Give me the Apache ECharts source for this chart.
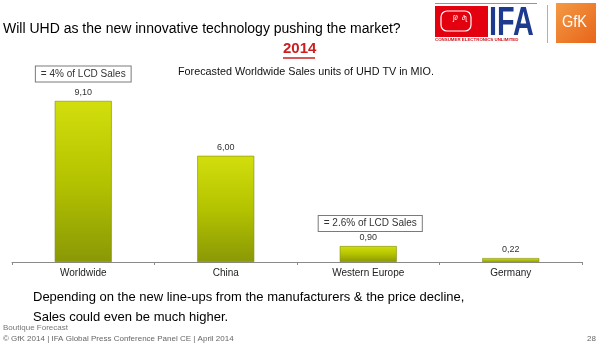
<!DOCTYPE html>
<html>
<head>
<meta charset="utf-8">
<script src="https://cdn.jsdelivr.net/npm/echarts@6/dist/echarts.min.js"></script>
<style>
html,body{margin:0;padding:0;background:#fff;}
#main{width:600px;height:347px;}
</style>
</head>
<body>
<div id="main"></div>
<script>
var categories = ['Worldwide', 'China', 'Western Europe', 'Germany'];
var salesValues = [9.10, 6.00, 0.90, 0.22];
var callouts = [
  { category: 'Worldwide', value: 9.10, text: '= 4% of LCD Sales' },
  { category: 'Western Europe', value: 0.90, text: '= 2.6% of LCD Sales' }
];

var FONT = 'Liberation Sans, Arial, sans-serif';
var chart = echarts.init(document.getElementById('main'), null, { renderer: 'canvas' });

var barColor = new echarts.graphic.LinearGradient(0, 0, 0, 1, [
  { offset: 0, color: '#d2de0c' },
  { offset: 0.5, color: '#b4c300' },
  { offset: 1, color: '#8a9806' }
]);

var option = {
  backgroundColor: '#ffffff',
  animation: false,
  textStyle: { fontFamily: FONT },
  grid: { left: 12, right: 18, top: 85, bottom: 85, containLabel: false },
  xAxis: {
    type: 'category',
    data: categories,
    boundaryGap: true,
    axisLine: { show: true, lineStyle: { color: '#8a8a8a', width: 1 } },
    axisTick: { show: true, length: 3, lineStyle: { color: '#8a8a8a' } },
    axisLabel: { color: '#222', fontSize: 10, margin: 6, fontFamily: FONT }
  },
  yAxis: {
    type: 'value', min: 0, max: 10, show: false,
    splitLine: { show: false }
  },
  series: [{
    type: 'bar',
    data: salesValues,
    barWidth: 57,
    itemStyle: { color: barColor, borderColor: '#7f8c10', borderWidth: 0.6 },
    label: {
      show: true, position: 'top', distance: 4,
      color: '#333', fontSize: 9, fontFamily: FONT,
      formatter: function (p) { return p.value.toFixed(2).replace('.', ','); }
    },
    markPoint: {
      symbol: 'rect',
      symbolSize: 1,
      itemStyle: { color: 'rgba(0,0,0,0)' },
      data: callouts.map(function (c, i) {
        return {
          coord: [c.category, c.value],
          label: {
            show: true, position: 'inside', formatter: c.text,
            offset: i === 0 ? [0, -27] : [2, -22.5],
            color: '#333', fontSize: 10, fontFamily: FONT,
            backgroundColor: '#ffffff', borderColor: '#7a7a7a', borderWidth: 1,
            padding: [3, 5, 2, 5]
          }
        };
      })
    }
  }],
  graphic: [
    { type: 'text', left: 3, top: 22, style: { text: 'Will UHD as the new innovative technology pushing the market?', fill: '#000', font: '14px ' + FONT } },
    { type: 'text', left: 283, top: 41, style: { text: '2014', fill: '#cc1f1f', font: 'bold 15px ' + FONT } },
    { type: 'line', shape: { x1: 283, y1: 58, x2: 315, y2: 58 }, style: { stroke: '#cc1f1f', lineWidth: 1.5 } },
    { type: 'text', left: 178, top: 67, style: { text: 'Forecasted Worldwide Sales units of UHD TV in MIO.', fill: '#111', font: '10.8px ' + FONT } },

    // IFA logo
    { type: 'line', shape: { x1: 435, y1: 3.5, x2: 537, y2: 3.5 }, style: { stroke: '#8a93b5', lineWidth: 1 } },
    { type: 'rect', shape: { x: 435, y: 6, width: 53, height: 31 }, style: { fill: '#e3000f' } },
    { type: 'rect', shape: { x: 441, y: 11, width: 30, height: 20, r: 6 }, style: { fill: 'none', stroke: '#ffffff', lineWidth: 1.2 } },
    { type: 'text', left: 453, top: 15, style: { text: 'ʃ∂  ∂ʅ', fill: '#fff', font: '7px ' + FONT } },
    { type: 'text', x: 489, y: 4, scaleX: 0.72, style: { text: 'IFA', fill: '#1c3b8f', font: 'bold 40px ' + FONT } },
    { type: 'text', left: 435, top: 38, style: { text: 'CONSUMER ELECTRONICS UNLIMITED', fill: '#d0101a', font: 'bold 4.4px ' + FONT } },
    { type: 'line', shape: { x1: 547.5, y1: 5, x2: 547.5, y2: 43 }, style: { stroke: '#b0b0b0', lineWidth: 1 } },
    // GfK logo
    { type: 'rect', shape: { x: 556, y: 3, width: 40, height: 40 }, style: { fill: new echarts.graphic.LinearGradient(0, 0, 1, 1, [ { offset: 0, color: '#f39a45' }, { offset: 1, color: '#e8651a' } ]) } },
    { type: 'text', x: 562, y: 14, scaleX: 0.85, style: { text: 'GfK', fill: '#ffffff', font: '17px ' + FONT } },

    // Bottom texts
    { type: 'text', left: 33, top: 291, style: { text: 'Depending on the new line-ups from the manufacturers & the price decline,', fill: '#000', font: '13px ' + FONT } },
    { type: 'text', left: 33, top: 311, style: { text: 'Sales could even be much higher.', fill: '#000', font: '13px ' + FONT } },
    { type: 'text', left: 3, top: 324, style: { text: 'Boutique Forecast', fill: '#777', font: '8px ' + FONT } },
    { type: 'text', left: 3, top: 335, style: { text: '\u00a9 GfK 2014 | IFA Global Press Conference Panel CE | April 2014', fill: '#666', font: '8px ' + FONT } },
    { type: 'text', right: 4, top: 335, style: { text: '28', fill: '#666', font: '8px ' + FONT } }
  ]
};
chart.setOption(option);
</script>
</body>
</html>
